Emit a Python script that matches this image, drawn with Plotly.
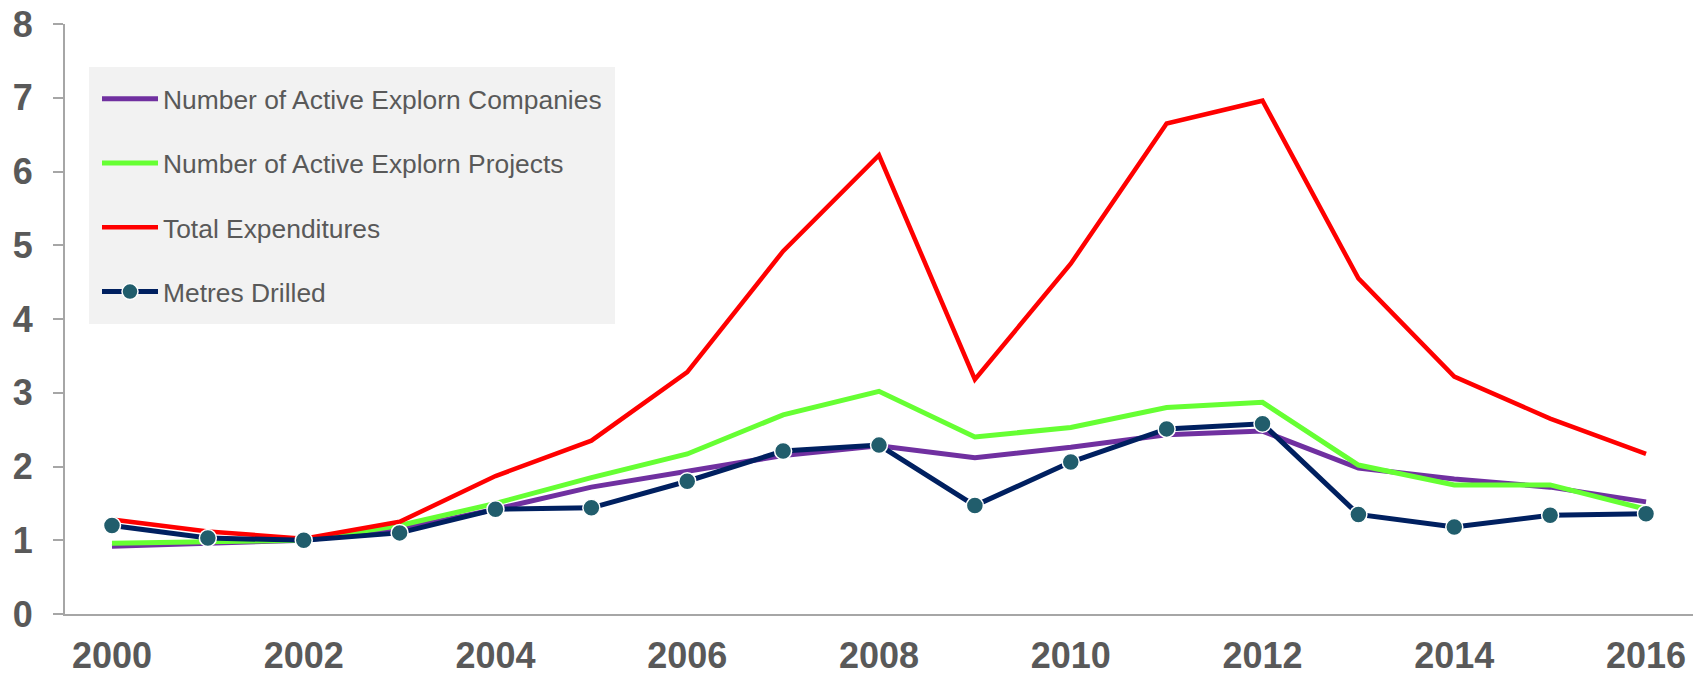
import plotly.graph_objects as go

years = list(range(2000, 2017))
companies = [0.92, 0.96, 1.00, 1.15, 1.42, 1.72, 1.93, 2.15, 2.28, 2.12, 2.26, 2.43, 2.48, 1.98, 1.83, 1.72, 1.52]
projects = [0.96, 0.98, 1.00, 1.20, 1.50, 1.85, 2.17, 2.70, 3.02, 2.40, 2.53, 2.80, 2.87, 2.02, 1.75, 1.75, 1.42]
expenditures = [1.28, 1.12, 1.02, 1.25, 1.87, 2.35, 3.28, 4.92, 6.22, 3.18, 4.75, 6.65, 6.96, 4.55, 3.22, 2.65, 2.17]
metres = [1.20, 1.03, 1.00, 1.10, 1.42, 1.44, 1.80, 2.21, 2.29, 1.47, 2.06, 2.51, 2.58, 1.35, 1.18, 1.34, 1.36]

names = ["Number of Active Explorn Companies", "Number of Active Explorn Projects",
         "Total Expenditures", "Metres Drilled"]
x_ticks = [2000, 2002, 2004, 2006, 2008, 2010, 2012, 2014, 2016]
y_ticks = [0, 1, 2, 3, 4, 5, 6, 7, 8]

fig = go.Figure()
fig.add_trace(go.Scatter(x=years, y=companies, name=names[0], mode="lines",
                         line=dict(color="#7030A0", width=5), legendgroup="a"))
fig.add_trace(go.Scatter(x=years, y=projects, name=names[1], mode="lines",
                         line=dict(color="#66FF33", width=5), legendgroup="b"))
fig.add_trace(go.Scatter(x=years, y=expenditures, name=names[2], mode="lines",
                         line=dict(color="#FF0000", width=4.5), legendgroup="c"))
fig.add_trace(go.Scatter(x=years, y=metres, name=names[3], mode="lines+markers",
                         line=dict(color="#002060", width=5),
                         marker=dict(size=17, color="#215D6C", line=dict(color="white", width=1.5)),
                         legendgroup="d"))

tick_font = dict(family="Liberation Sans, Arial, sans-serif", size=36, color="#595959", weight="bold")

fig.update_layout(
    width=1696, height=668,
    margin=dict(l=57, r=11, t=16, b=62),
    paper_bgcolor="white", plot_bgcolor="white",
    showlegend=True,
    legend=dict(
        x=(89 - 65) / 1628, y=(614 - 67) / 590, xanchor="left", yanchor="top",
        bgcolor="#F2F2F2", bordercolor="#F2F2F2", borderwidth=8,
        font=dict(family="Liberation Sans, Arial, sans-serif", size=26.4, color="#595959"),
        tracegroupgap=27,
        traceorder="grouped",
        itemwidth=56,
    ),
    xaxis=dict(
        range=[1999.51, 2016.49], tickmode="array", tickvals=x_ticks,
        ticktext=[str(v) for v in x_ticks], automargin=False,
        showgrid=False, zeroline=False, showline=True, linecolor="#A6A6A6", linewidth=2,
        ticks="", tickfont=tick_font, ticklabelstandoff=9, ticklabeloverflow="allow",
    ),
    yaxis=dict(
        range=[0, 8], tickmode="array", tickvals=y_ticks, automargin=False,
        showgrid=False, zeroline=False, showline=True, linecolor="#A6A6A6", linewidth=2,
        ticks="outside", ticklen=10, tickwidth=2, tickcolor="#A6A6A6",
        tickfont=tick_font, ticklabelstandoff=13, ticklabeloverflow="allow",
    ),
)

fig.add_shape(type="line", xref="paper", yref="paper", x0=-11/1628, x1=0, y0=0, y1=0,
              line=dict(color="#A6A6A6", width=2))

fig.write_html("out.html")
